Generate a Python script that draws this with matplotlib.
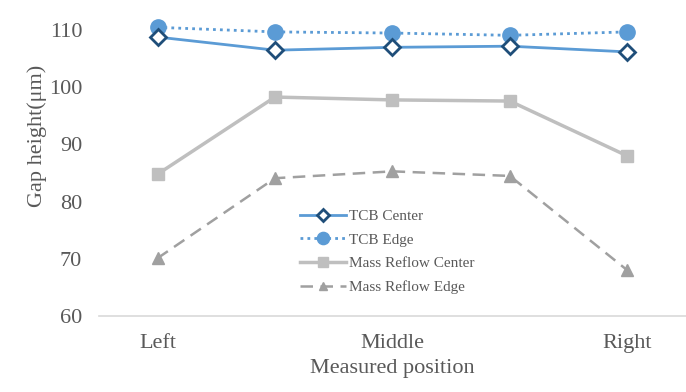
import numpy as np
import matplotlib
matplotlib.use('Agg')
import matplotlib.pyplot as plt

# dane
positions = ['Left', '', 'Middle', '', 'Right']
tcb_center = [108.8, 106.5, 107.0, 107.2, 106.2]
tcb_edge = [110.5, 109.7, 109.5, 109.1, 109.7]
mr_center = [84.8, 98.3, 97.8, 97.6, 88.0]
mr_edge = [70.1, 84.1, 85.3, 84.5, 68.0]

plt.rcParams['font.family'] = ['Liberation Serif', 'DejaVu Serif']
txt = '#595959'

fig = plt.figure(figsize=(6.86, 3.92), dpi=100)
ax = fig.add_axes([0.144, 0.194, 0.856, 0.729])
x = np.arange(len(positions))

ax.plot(x, tcb_center, color='#5b9bd5', lw=2, marker='D', ms=8, mfc='white',
        mec='#1f4e79', mew=2, label='TCB Center', clip_on=False, zorder=3)
ax.plot(x, tcb_edge, color='#5b9bd5', lw=2, ls=(0, (1, 1.5)), marker='o', ms=11,
        mfc='#5b9bd5', mec='#5b9bd5', label='TCB Edge', clip_on=False, zorder=2)
ax.plot(x, mr_center, color='#bfbfbf', lw=2.5, marker='s', ms=9,
        label='Mass Reflow Center', clip_on=False)
ax.plot(x, mr_edge, color='#a0a0a0', lw=1.8, ls=(0, (5, 3)), marker='^', ms=8,
        label='Mass Reflow Edge', clip_on=False)

ax.set_xlim(-0.5, 4.5)
ax.set_ylim(60, 110)
ax.set_yticks(np.arange(60, 111, 10))
ax.set_xticks(x)
ax.set_xticklabels(positions)
ax.tick_params(axis='both', length=0, labelsize=16, colors=txt)
ax.tick_params(axis='x', pad=13)
ax.tick_params(axis='y', pad=12)

for s in ['top', 'right', 'left']:
    ax.spines[s].set_visible(False)
ax.spines['bottom'].set_color('#d9d9d9')
ax.spines['bottom'].set_linewidth(1.2)

ax.set_xlabel('Measured position', fontsize=16, color=txt, labelpad=4)
ax.set_ylabel('Gap height(μm)', fontsize=16, color=txt)
ax.yaxis.set_label_coords(-0.088, 0.63)

leg = ax.legend(loc='upper left', bbox_to_anchor=(0.33, 0.40), frameon=False,
                fontsize=11, labelcolor=txt, handlelength=3, handletextpad=0.2,
                borderpad=0, labelspacing=0.65, markerscale=0.8)

fig.savefig('out.png', dpi=100)
